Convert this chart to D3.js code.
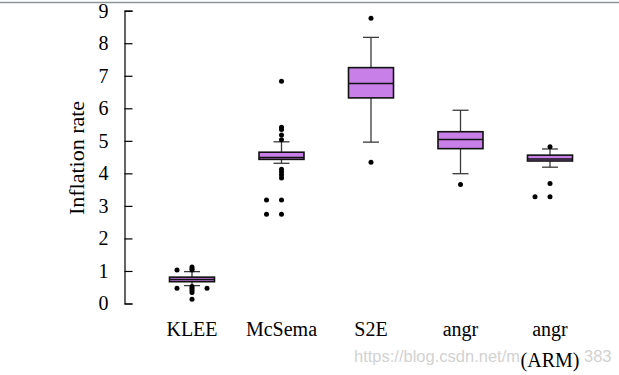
<!DOCTYPE html>
<meta charset="utf-8">
<style>
  body { margin: 0; background: #fff; }
  svg { display: block; }
</style>
<body>
<svg width="619" height="375"></svg>
<script src="https://d3js.org/d3.v7.min.js"></script>
<script>

// values (inflation rate per tool)
var categories = ["KLEE", "McSema", "S2E", "angr", "angr (ARM)"];
var labelLines = [["KLEE"], ["McSema"], ["S2E"], ["angr"], ["angr", "(ARM)"]];
var whiskerLow  = [0.55, 4.31, 4.96, 3.99, 4.19];
var q1          = [0.67, 4.43, 6.32, 4.76, 4.38];
var median      = [0.74, 4.49, 6.76, 5.04, 4.44];
var q3          = [0.81, 4.65, 7.25, 5.28, 4.56];
var whiskerHigh = [0.98, 4.97, 8.18, 5.94, 4.75];
var outliers = [
  [1.12, 1.07, 1.03, 1.03, 0.52, 0.47, 0.47, 0.47, 0.41, 0.34, 0.13],
  [6.83, 5.42, 5.35, 5.18, 5.03, 4.13, 4.04, 3.95, 3.86, 3.18, 3.18, 2.74, 2.74],
  [8.77, 4.34],
  [3.66],
  [4.82, 3.69, 3.28, 3.28]
];
var yTicks = [0, 1, 2, 3, 4, 5, 6, 7, 8, 9];

var svg = d3.select("svg"),
    serif = "'Liberation Serif', 'DejaVu Serif', serif";

var x = d3.scalePoint().domain(categories).range([192, 550]);
var y = d3.scaleLinear().domain([0, 9]).range([303.5, 10.7]);

var boxW = 45, capW = 16;

// grey border line at the top of the screenshot
svg.append("line")
    .attr("x1", 0).attr("x2", 619).attr("y1", 2.5).attr("y2", 2.5)
    .attr("stroke", "#8c939b").attr("stroke-width", 1.5);

// y axis, ticks pointing inward
var yAxis = svg.append("g")
    .attr("transform", "translate(124.5,0)")
    .call(d3.axisLeft(y).tickValues(yTicks).tickSize(-8).tickPadding(16).tickFormat(d3.format("d")));
yAxis.selectAll("path, line").attr("stroke", "#000").attr("stroke-width", 1.2);
yAxis.selectAll("text")
    .attr("font-family", serif).attr("font-size", 20).attr("fill", "#000");

svg.append("text")
    .attr("transform", "translate(84,158) rotate(-90)")
    .attr("text-anchor", "middle")
    .attr("font-family", serif).attr("font-size", 22)
    .text("Inflation rate");

// watermark
var wm = svg.append("g").attr("fill", "#d2d2d2")
    .attr("font-family", "'Liberation Sans', Arial, sans-serif").attr("font-size", 16.5);
wm.append("text").attr("x", 354).attr("y", 362).text("https://blog.csdn.net/m");
wm.append("text").attr("x", 584).attr("y", 362).text("383");

// boxes
var boxes = svg.selectAll(".box")
    .data(categories)
  .enter().append("g")
    .attr("class", "box")
    .attr("transform", function(d) { return "translate(" + x(d) + ",0)"; });

boxes.append("line")   // upper whisker
    .attr("y1", function(d, i) { return y(q3[i]); })
    .attr("y2", function(d, i) { return y(whiskerHigh[i]); });
boxes.append("line")   // lower whisker
    .attr("y1", function(d, i) { return y(q1[i]); })
    .attr("y2", function(d, i) { return y(whiskerLow[i]); });
boxes.append("line")
    .attr("x1", -capW / 2).attr("x2", capW / 2)
    .attr("y1", function(d, i) { return y(whiskerHigh[i]); })
    .attr("y2", function(d, i) { return y(whiskerHigh[i]); });
boxes.append("line")
    .attr("x1", -capW / 2).attr("x2", capW / 2)
    .attr("y1", function(d, i) { return y(whiskerLow[i]); })
    .attr("y2", function(d, i) { return y(whiskerLow[i]); });
boxes.selectAll("line").attr("stroke", "#3a3a3a").attr("stroke-width", 1.3);

boxes.append("rect")
    .attr("x", -boxW / 2).attr("width", boxW)
    .attr("y", function(d, i) { return y(q3[i]); })
    .attr("height", function(d, i) { return y(q1[i]) - y(q3[i]); })
    .attr("fill", "#c97fe8").attr("stroke", "#111").attr("stroke-width", 1.6);

boxes.append("line")
    .attr("x1", -boxW / 2).attr("x2", boxW / 2)
    .attr("y1", function(d, i) { return y(median[i]); })
    .attr("y2", function(d, i) { return y(median[i]); })
    .attr("stroke", "#111").attr("stroke-width", 1.5);

// outliers: repeated values are spread sideways (centre, left, right)
var dodge = [0, -15, 15];
boxes.each(function(d, i) {
  var seen = {};
  var pts = outliers[i].map(function(v) {
    var key = Math.round(y(v));
    seen[key] = (seen[key] || 0) + 1;
    return { v: v, dx: dodge[(seen[key] - 1) % 3] };
  });
  d3.select(this).selectAll("circle")
      .data(pts)
    .enter().append("circle")
      .attr("cx", function(p) { return p.dx; })
      .attr("cy", function(p) { return y(p.v); })
      .attr("r", 2.5)
      .attr("fill", "#000");
});

// category labels
boxes.append("text")
    .attr("text-anchor", "middle")
    .attr("font-family", serif).attr("font-size", 20)
    .selectAll("tspan")
    .data(function(d, i) { return labelLines[i]; })
  .enter().append("tspan")
    .attr("x", 0)
    .attr("y", function(t, j) { return 336 + j * 30.5; })
    .text(function(t) { return t; });

</script>
</body>
